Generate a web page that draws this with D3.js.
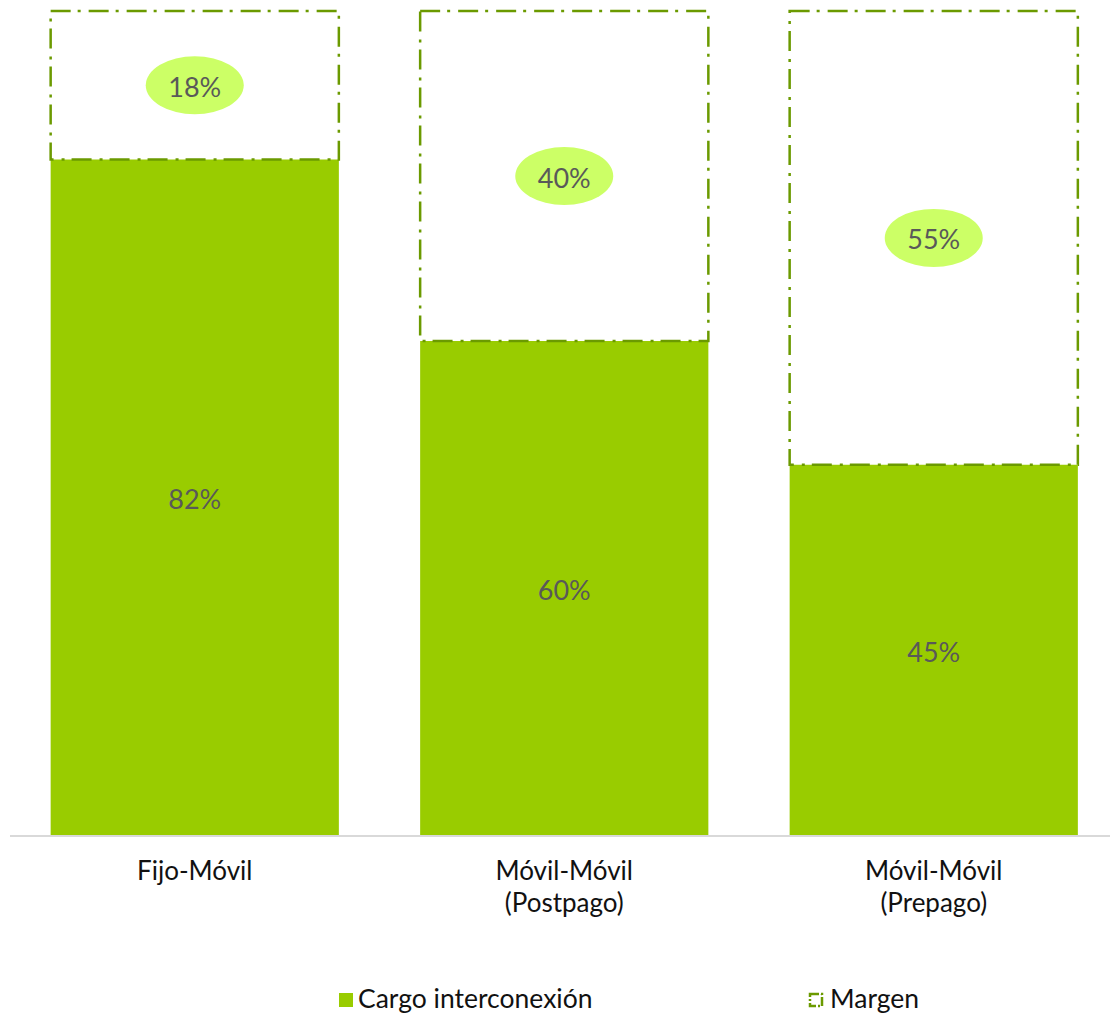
<!DOCTYPE html>
<html><head><meta charset="utf-8">
<script src="https://cdn.jsdelivr.net/npm/d3@7"></script>
<style>body{margin:0;background:#fff}svg{display:block}</style>
</head><body>
<script>
const categories = [["Fijo-Móvil"], ["Móvil-Móvil", "(Postpago)"], ["Móvil-Móvil", "(Prepago)"]];
const cargo = [82, 60, 45];
const margen = [18, 40, 55];
const seriesNames = ["Cargo interconexión", "Margen"];

const W = 1110, H = 1013;
const svg = d3.select("body").append("svg").attr("width", W).attr("height", H);
const font = "Lato, 'Open Sans', sans-serif";
const keys = categories.map((c, i) => i);

const x = d3.scaleBand().domain(keys).range([10, 1118.5]).paddingInner(0.22).paddingOuter(0.11);
const y = d3.scaleLinear().domain([0, 100]).range([836, 11]);

const green = "#99cc00", dark = "#6b9a00";
const dash = "20,7,3,8";

// bars
svg.selectAll("rect.cargo").data(cargo).join("rect").attr("class", "cargo")
  .attr("x", (d, i) => x(i)).attr("width", x.bandwidth())
  .attr("y", d => y(d)).attr("height", d => y(0) - y(d)).attr("fill", green);

svg.selectAll("rect.margen").data(margen).join("rect").attr("class", "margen")
  .attr("x", (d, i) => x(i)).attr("width", x.bandwidth())
  .attr("y", (d, i) => y(cargo[i] + d)).attr("height", (d, i) => y(cargo[i]) - y(cargo[i] + d))
  .attr("fill", "none").attr("stroke", dark).attr("stroke-width", 2.5).attr("stroke-dasharray", dash);

// axis line
svg.append("line").attr("x1", 10).attr("x2", 1110).attr("y1", y(0)).attr("y2", y(0))
  .attr("stroke", "#d9d9d9").attr("stroke-width", 2);

// labels cargo
svg.selectAll("text.lc").data(cargo).join("text").attr("class", "lc")
  .attr("x", (d, i) => x(i) + x.bandwidth() / 2).attr("y", d => (y(0) + y(d)) / 2 + 1)
  .attr("text-anchor", "middle").attr("dominant-baseline", "central")
  .attr("font-family", font).attr("font-size", 27).attr("fill", "#595959")
  .text(d => d + "%");

// labels margen with ellipse
const mg = svg.selectAll("g.lm").data(margen).join("g").attr("class", "lm")
  .attr("transform", (d, i) => `translate(${x(i) + x.bandwidth() / 2},${(y(cargo[i]) + y(cargo[i] + d)) / 2})`);
mg.append("ellipse").attr("rx", 49).attr("ry", 29).attr("fill", "#ccff66");
mg.append("text").attr("text-anchor", "middle").attr("dominant-baseline", "central").attr("y", 1)
  .attr("font-family", font).attr("font-size", 27).attr("fill", "#595959")
  .text(d => d + "%");

// category labels
const cl = svg.selectAll("text.cat").data(categories).join("text").attr("class", "cat")
  .attr("x", (d, i) => x(i) + x.bandwidth() / 2).attr("y", 880)
  .attr("text-anchor", "middle").attr("font-family", font).attr("font-size", 26).attr("fill", "#111");
cl.selectAll("tspan").data(d => d).join("tspan")
  .attr("x", function () { return d3.select(this.parentNode).attr("x"); })
  .attr("dy", (d, j) => j === 0 ? 0 : 32).text(d => d);

// legend
const lg = svg.append("g");
lg.append("rect").attr("x", 339).attr("y", 993).attr("width", 14).attr("height", 14).attr("fill", green);
lg.append("text").attr("x", 358).attr("y", 1008).attr("font-family", font).attr("font-size", 26.5).attr("fill", "#111").text(seriesNames[0]);
lg.append("rect").attr("x", 810).attr("y", 994).attr("width", 12).attr("height", 12)
  .attr("fill", "none").attr("stroke", dark).attr("stroke-width", 2.5).attr("stroke-dasharray", "9,2,2,2");
lg.append("text").attr("x", 830).attr("y", 1008).attr("font-family", font).attr("font-size", 26.5).attr("fill", "#111").text(seriesNames[1]);
</script>
</body></html>
